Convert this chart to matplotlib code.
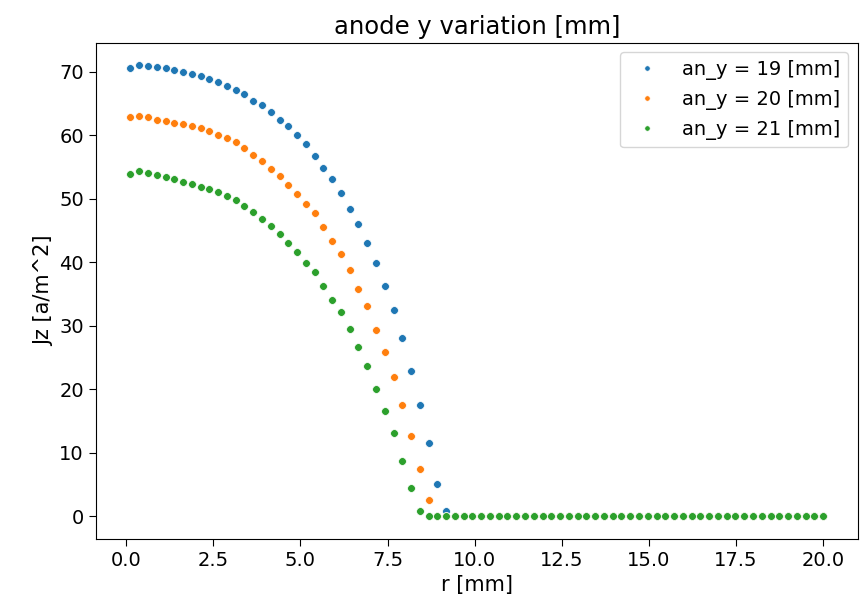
import numpy as np
import matplotlib
matplotlib.use("Agg")
import matplotlib.pyplot as plt

# radial positions [mm]
r = np.linspace(0.12, 20.0, 80)

# current density, zero past the edge
jz_19 = [70.6, 71.0, 70.95, 70.75, 70.6, 70.3, 69.95, 69.6, 69.25, 68.9,
         68.3, 67.8, 67.15, 66.4, 65.4, 64.7, 63.65, 62.45, 61.4, 60.05,
         58.55, 56.75, 54.8, 53.1, 50.95, 48.45, 45.95, 43.05, 39.85, 36.2,
         32.5, 28.0, 22.95, 17.6, 11.55, 5.1, 0.8] + [0.0] * 43
jz_20 = [62.85, 62.95, 62.85, 62.45, 62.2, 61.95, 61.7, 61.4, 61.05, 60.6,
         60.1, 59.6, 58.9, 58.0, 56.85, 55.9, 54.75, 53.5, 52.1, 50.8,
         49.2, 47.7, 45.6, 43.4, 41.3, 38.75, 35.85, 33.05, 29.4, 25.85,
         21.95, 17.6, 12.6, 7.5, 2.6] + [0.0] * 45
jz_21 = [53.95, 54.3, 54.0, 53.8, 53.4, 53.05, 52.7, 52.25, 51.9, 51.55,
         51.0, 50.4, 49.75, 48.8, 47.85, 46.75, 45.65, 44.5, 43.05, 41.6,
         39.9, 38.4, 36.2, 34.1, 32.1, 29.5, 26.6, 23.75, 20.1, 16.55,
         13.05, 8.65, 4.45, 0.8] + [0.0] * 46

labels = ["an_y = 19 [mm]", "an_y = 20 [mm]", "an_y = 21 [mm]"]

fig = plt.figure(figsize=(8.63, 6.15), dpi=100)
ax = fig.add_axes([0.111, 0.1236, 0.883, 0.807])

for jz, lab in zip([jz_19, jz_20, jz_21], labels):
    ax.plot(r, jz, "o", ms=5.6, markeredgecolor="white", markeredgewidth=0.5, label=lab)

ax.set_xticks(np.arange(0, 20.1, 2.5))
ax.set_yticks(np.arange(0, 71, 10))
ax.tick_params(labelsize=14, length=5)
ax.set_xlabel("r [mm]", fontsize=15)
ax.set_ylabel("Jz [a/m^2]", fontsize=15)
ax.set_title("anode y variation [mm]", fontsize=17.5)
ax.legend(loc="upper right", fontsize=14, markerscale=0.7)

fig.savefig("out.png", dpi=100)
